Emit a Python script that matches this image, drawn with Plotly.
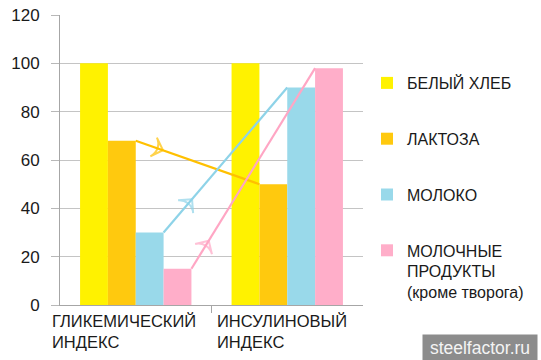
import plotly.graph_objects as go

categories = ["ГЛИКЕМИЧЕСКИЙ<br>ИНДЕКС", "ИНСУЛИНОВЫЙ<br>ИНДЕКС"]
series_names = ["БЕЛЫЙ ХЛЕБ", "ЛАКТОЗА", "МОЛОКО", "МОЛОЧНЫЕ<br>ПРОДУКТЫ<br>(кроме творога)"]
white_bread = [100, 100]
lactose = [68, 50]
milk = [30, 90]
dairy = [15, 98]
y_ticks = [0, 20, 40, 60, 80, 100, 120]

series_values = [white_bread, lactose, milk, dairy]
bar_colors = ["#FFF200", "#FFC90E", "#99D9EA", "#FFAEC9"]
arrow_colors = ["#FFC000", "#FFC000", "#8ED3E8", "#FFA6C4"]
arrow_frac = [None, 0.22, 0.23, 0.14]

W, H = 541, 360
L, R, T, B = 60, 178, 15, 55
bargap = 0.265
n = len(series_values)
w = (1 - bargap) / n
offsets = [-(1 - bargap) / 2 + i * w for i in range(n)]
xpos = list(range(len(categories)))

fig = go.Figure()
for i, (name, vals) in enumerate(zip(series_names, series_values)):
    fig.add_trace(go.Bar(
        x=xpos, y=vals, name=name, width=w, offset=offsets[i],
        marker=dict(color=bar_colors[i], line=dict(width=0)),
        legendgroup=f"g{i}",
    ))

# arrows from GI bar top to II bar top for series 1..3
for i in range(1, n):
    vals = series_values[i]
    x0 = xpos[0] + offsets[i] + w
    x1 = xpos[1] + offsets[i]
    y0, y1 = vals[0], vals[1]
    f = arrow_frac[i]
    xm = x0 + f * (x1 - x0)
    ym = y0 + f * (y1 - y0)
    fig.add_trace(go.Scatter(
        x=[x0, xm, x1], y=[y0, ym, y1], mode="lines+markers",
        line=dict(color=arrow_colors[i], width=2.2),
        marker=dict(symbol=["circle", "arrow-wide-open", "circle"],
                    size=[0, 14, 0], angleref="previous",
                    color=arrow_colors[i],
                    line=dict(color=arrow_colors[i], width=2)),
        showlegend=False, hoverinfo="skip", cliponaxis=False,
    ))

label_shift = [-10, 3]
for i, c in enumerate(categories):
    fig.add_annotation(
        x=xpos[i] - 0.5, xref="x", y=0, yref="paper", xanchor="left", yanchor="top",
        xshift=label_shift[i], yshift=-5, text=c, showarrow=False, align="left",
        font=dict(family="Liberation Sans, Arial, sans-serif", size=16.5, color="#1a1a1a"),
    )

# watermark
pw = W - L - R
ph = H - T - B
fig.add_annotation(
    x=(480 - L) / pw, y=-(B - 12.5) / ph, xref="paper", yref="paper",
    xanchor="center", yanchor="middle", text="steelfactor.ru", showarrow=False,
    bgcolor="#8c8c8c", font=dict(family="Liberation Sans, Arial, sans-serif", size=17.5, color="#f4f4f4"),
    width=114, height=25, borderpad=0,
)

fig.update_layout(
    width=W, height=H, margin=dict(l=L, r=R, t=T, b=B, pad=0, autoexpand=False),
    paper_bgcolor="white", plot_bgcolor="white",
    barmode="overlay", bargap=bargap,
    font=dict(family="Liberation Sans, Arial, sans-serif", color="#1a1a1a"),
    showlegend=True,
    legend=dict(
        x=(367 - L) / pw, xanchor="left", y=(H - B - 66) / ph, yanchor="top",
        traceorder="grouped", tracegroupgap=32, valign="top",
        font=dict(size=16, color="#1a1a1a"), bgcolor="rgba(0,0,0,0)",
        itemwidth=30,
    ),
    xaxis=dict(
        range=[-0.5, 1.5], tickvals=[0.5], ticktext=[""], ticks="outside", ticklen=7,
        tickcolor="#a6a6a6", showline=True, linecolor="#a6a6a6", linewidth=1,
        showgrid=False, zeroline=False, fixedrange=True,
    ),
    yaxis=dict(
        range=[0, 120], tickvals=y_ticks, ticks="outside", ticklen=8, tickcolor="#b8b8b8",
        showline=True, linecolor="#a6a6a6", linewidth=1, gridcolor="#c4c4c4",
        zeroline=False, tickfont=dict(size=17, color="#1a1a1a"), ticklabelstandoff=8,
    ),
)

fig.write_html("out.html", post_script="document.body.style.margin='0';",
               config={"displayModeBar": False})
